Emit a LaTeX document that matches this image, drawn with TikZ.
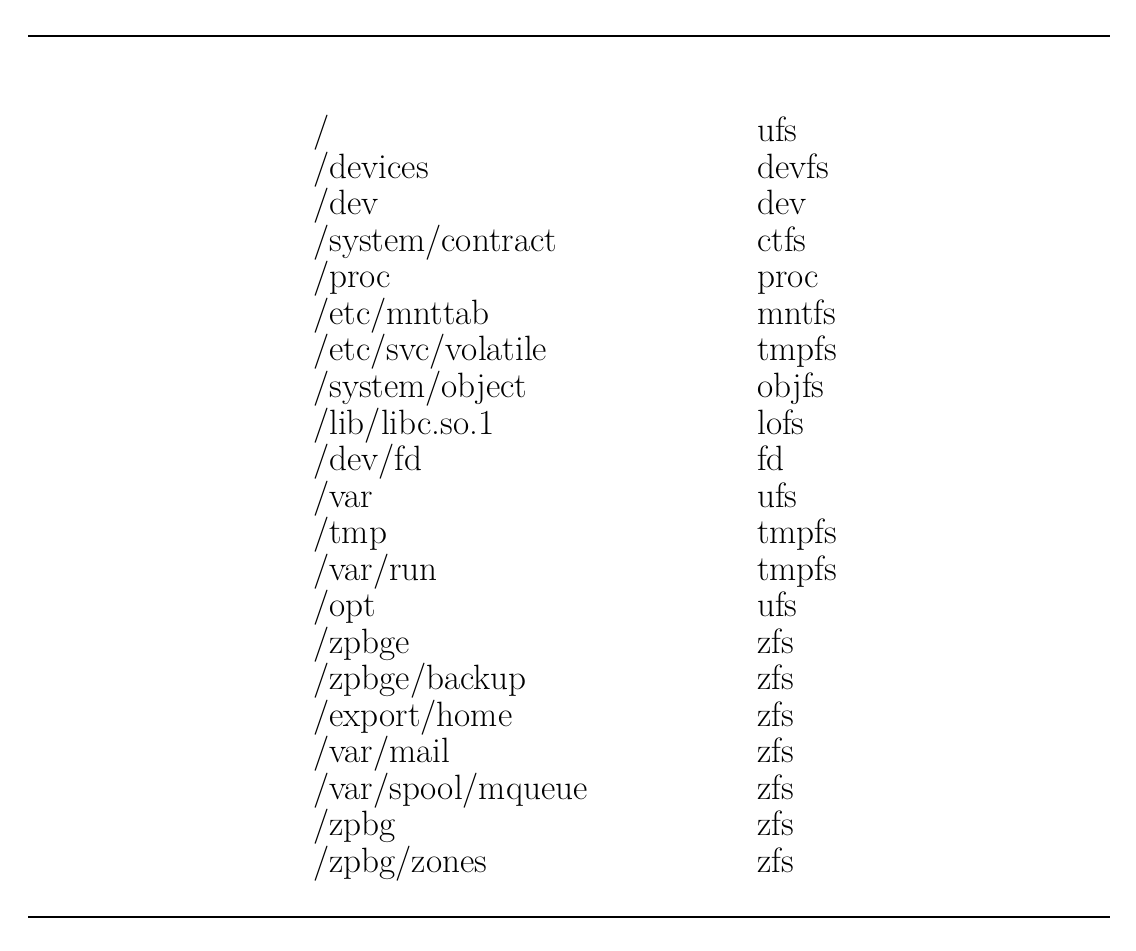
\documentclass[tikz,border=0pt]{standalone}
\usepackage{tikz}
\usetikzlibrary{positioning}
\tikzset{
  cell/.style={anchor=base west,inner sep=0pt,font=\fontsize{25}{29}\selectfont},
  rule/.style={line width=1.6pt}
}
\begin{document}
\begin{tikzpicture}[x=0.025cm,y=-0.025cm]
    % Rahmen
    \useasboundingbox (0,0) rectangle (1136,951);
    \draw[rule] (28,36) -- (1110,36);
    \draw[rule] (28,917) -- (1110,917);

    % Tabelle
    \foreach \mnt/\fs [count=\i from 0] in {{/}/ufs, {/devices}/devfs, {/dev}/dev,
        {/system/contract}/ctfs, {/proc}/proc, {/etc/mnttab}/mntfs,
        {/etc/svc/volatile}/tmpfs, {/system/object}/objfs, {/lib/libc.so.1}/lofs,
        {/dev/fd}/fd, {/var}/ufs, {/tmp}/tmpfs, {/var/run}/tmpfs, {/opt}/ufs,
        {/zpbge}/zfs, {/zpbge/backup}/zfs, {/export/home}/zfs, {/var/mail}/zfs,
        {/var/spool/mqueue}/zfs, {/zpbg}/zfs, {/zpbg/zones}/zfs}{
      \node[cell] (p\i) at (313,{142+36.5*\i}) {\mnt};
      \node[cell] (t\i) at (757,{142+36.5*\i}) {\fs};
    }
\end{tikzpicture}
\end{document}
